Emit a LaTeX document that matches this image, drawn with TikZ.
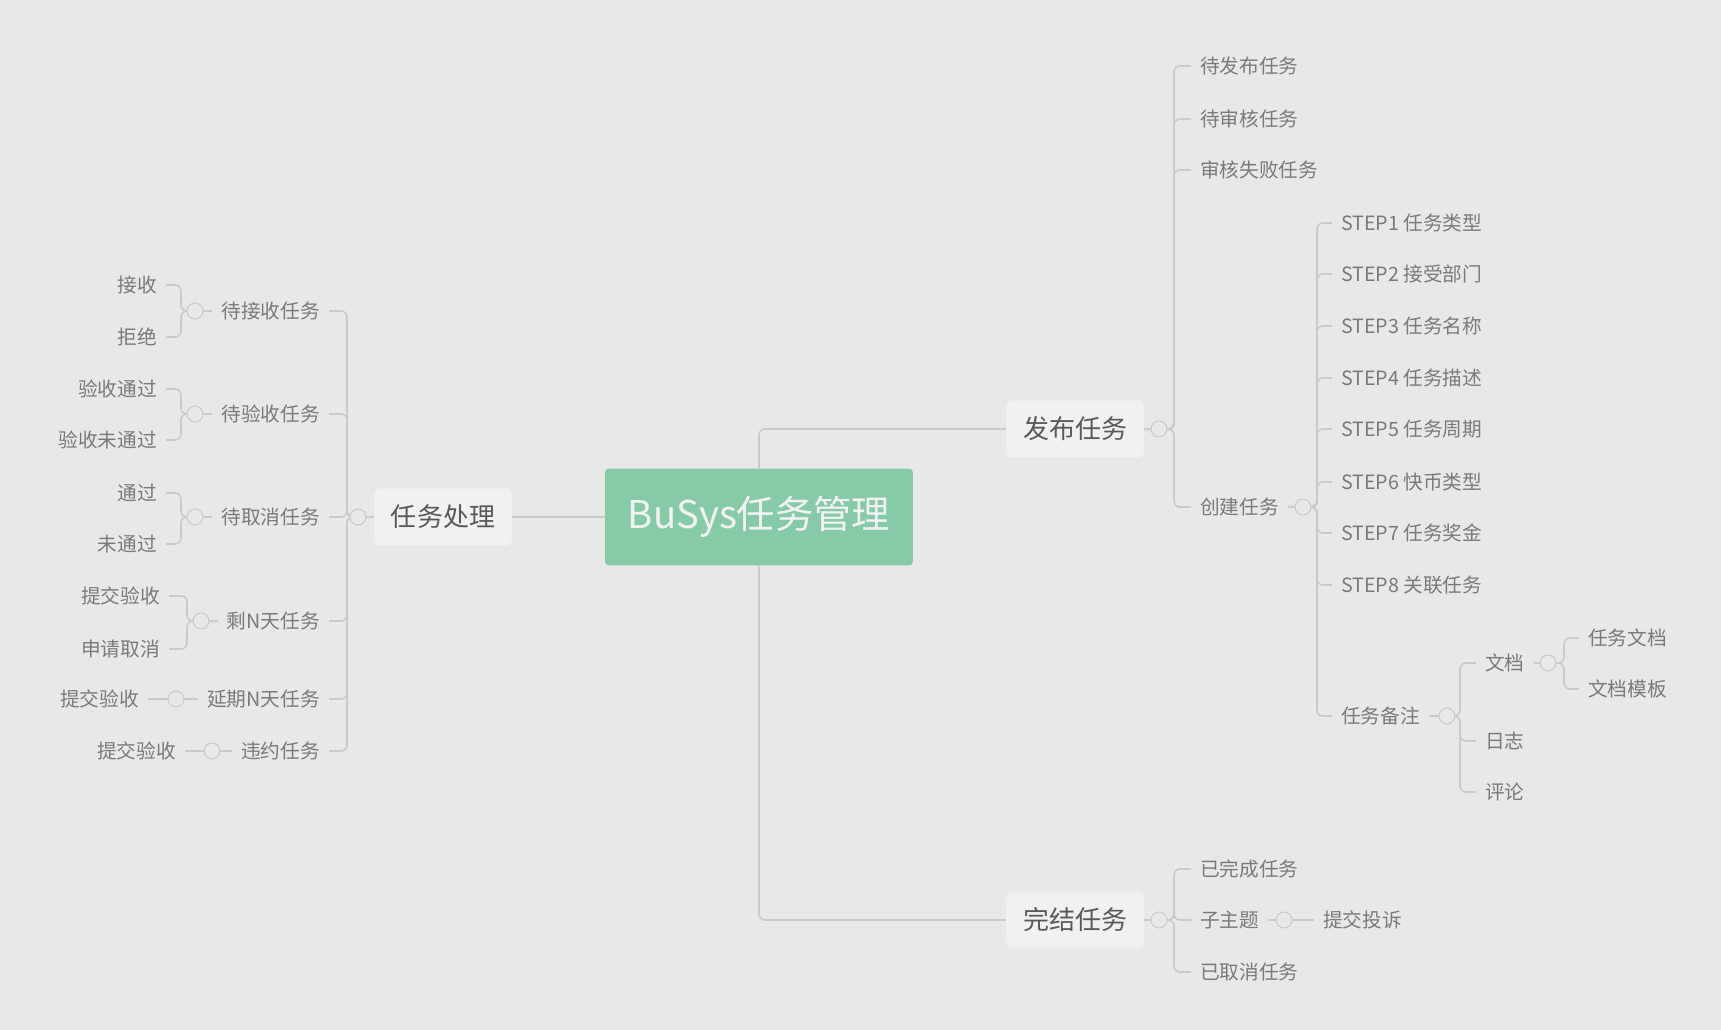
\documentclass[tikz,border=0pt]{standalone}
\usepackage{fontspec}
\setmainfont{Noto Sans CJK SC}
\usetikzlibrary{positioning, backgrounds}
\definecolor{bgcol}{HTML}{E8E8E8}
\definecolor{linecol}{HTML}{CACACA}
\definecolor{rootcol}{HTML}{86CAA8}
\definecolor{boxcol}{HTML}{F1F1F1}
\definecolor{txtcol}{HTML}{7A7A7A}
\tikzstyle{link} = [draw=linecol, line width=0.9pt, rounded corners=0.12cm]

\begin{document}
\begin{tikzpicture}[x=0.02cm, y=-0.02cm,
  root/.style={rectangle, rounded corners=0.08cm, fill=rootcol, text=white!95!black, minimum width=6.16cm, minimum height=1.94cm, font=\fontsize{21.8}{26}\selectfont},
  topic/.style={rectangle, rounded corners=0.1cm, fill=boxcol, draw=black!6, text=black!65, minimum width=2.74cm, minimum height=1.13cm, font=\fontsize{14.8}{18}\selectfont},
  leafL/.style={anchor=east, inner xsep=5pt, inner ysep=1pt, text=txtcol, font=\fontsize{11.2}{13}\selectfont},
  leafR/.style={leafL, anchor=west},
  btn/.style={circle, draw=linecol, fill=bgcol, line width=0.6pt, minimum size=0.32cm, inner sep=0pt}
]
\useasboundingbox (0,0) rectangle (1721,1030);

% Centre and main topics
\node[root] (root) at (759,517) {BuSys任务管理};
\node[topic] (proc) at (443,517) {任务处理};
\node[topic] (pub) at (1075,429) {发布任务};
\node[topic] (fin) at (1075,920) {完结任务};

% Left: task handling
\node[btn] (procBtn) at (358,517) {};
\node[leafL] (tRecv) at (329,311) {待接收任务};
\node[leafL] (tCheck) at (329,414) {待验收任务};
\node[leafL] (tCancel) at (329,517) {待取消任务};
\node[leafL] (tLeft) at (329,621) {剩N天任务};
\node[leafL] (tDelay) at (329,699) {延期N天任务};
\node[leafL] (tBreach) at (329,751) {违约任务};

\node[btn] (bRecv) at (195,311) {};
\node[btn] (bCheck) at (195,414) {};
\node[btn] (bCancel) at (195,517) {};
\node[btn] (bLeft) at (201,621) {};
\node[btn] (bDelay) at (176,699) {};
\node[btn] (bBreach) at (212,751) {};

\node[leafL] (gAccept) at (166,285) {接收};
\node[leafL] (gReject) at (166,337) {拒绝};
\node[leafL] (gPass) at (166,389) {验收通过};
\node[leafL] (gFail) at (166,440) {验收未通过};
\node[leafL] (gOk) at (166,493) {通过};
\node[leafL] (gNo) at (166,544) {未通过};
\node[leafL] (gLeftSub) at (169,596) {提交验收};
\node[leafL] (gLeftCancel) at (169,649) {申请取消};
\node[leafL] (gDelaySub) at (148,699) {提交验收};
\node[leafL] (gBreachSub) at (185,751) {提交验收};

% Right: publish
\node[btn] (pubBtn) at (1159,429) {};
\node[leafR] (pWait) at (1191,66) {待发布任务};
\node[leafR] (pAudit) at (1191,119) {待审核任务};
\node[leafR] (pReject) at (1191,170) {审核失败任务};
\node[leafR] (pCreate) at (1191,507) {创建任务};

\node[btn] (createBtn) at (1303,507) {};
\node[leafR] (s1) at (1332,223) {STEP1 任务类型};
\node[leafR] (s2) at (1332,274) {STEP2 接受部门};
\node[leafR] (s3) at (1332,326) {STEP3 任务名称};
\node[leafR] (s4) at (1332,378) {STEP4 任务描述};
\node[leafR] (s5) at (1332,429) {STEP5 任务周期};
\node[leafR] (s6) at (1332,482) {STEP6 快币类型};
\node[leafR] (s7) at (1332,533) {STEP7 任务奖金};
\node[leafR] (s8) at (1332,585) {STEP8 关联任务};
\node[leafR] (note) at (1332,716) {任务备注};

\node[btn] (noteBtn) at (1447,716) {};
\node[leafR] (doc) at (1476,663) {文档};
\node[leafR] (log) at (1476,741) {日志};
\node[leafR] (cmt) at (1476,792) {评论};

\node[btn] (docBtn) at (1548,663) {};
\node[leafR] (docTask) at (1579,638) {任务文档};
\node[leafR] (docTpl) at (1579,689) {文档模板};

% Right: finish
\node[btn] (finBtn) at (1159,920) {};
\node[leafR] (fDone) at (1191,869) {已完成任务};
\node[leafR] (fSub) at (1191,920) {子主题};
\node[leafR] (fCancel) at (1191,972) {已取消任务};
\node[btn] (subBtn) at (1284,920) {};
\node[leafR] (fComplain) at (1314,920) {提交投诉};

\begin{scope}[on background layer]
  \fill[bgcol] (0,0) rectangle (1721,1030);
  % trunk
  \draw[link] (root.west) -- (proc.east);
  \draw[link] (root.north) |- (pub.west);
  \draw[link] (root.south) |- (fin.west);
  % left branches
  \draw[link] (proc.west) -- (procBtn.center);
  \foreach \c in {tRecv, tCheck, tCancel, tLeft, tDelay, tBreach}
    \draw[link] (procBtn.center) -- ++(-11,0) |- (\c.east);
  \draw[link] (tRecv.west) -- (bRecv.center);
  \draw[link] (tCheck.west) -- (bCheck.center);
  \draw[link] (tCancel.west) -- (bCancel.center);
  \draw[link] (tLeft.west) -- (bLeft.center);
  \foreach \c in {gAccept, gReject}
    \draw[link] (bRecv.center) -- ++(-14,0) |- (\c.east);
  \foreach \c in {gPass, gFail}
    \draw[link] (bCheck.center) -- ++(-14,0) |- (\c.east);
  \foreach \c in {gOk, gNo}
    \draw[link] (bCancel.center) -- ++(-14,0) |- (\c.east);
  \foreach \c in {gLeftSub, gLeftCancel}
    \draw[link] (bLeft.center) -- ++(-14,0) |- (\c.east);
  \draw[link] (tDelay.west) -- (bDelay.center) -- (gDelaySub.east);
  \draw[link] (tBreach.west) -- (bBreach.center) -- (gBreachSub.east);
  % right branches
  \draw[link] (pub.east) -- (pubBtn.center);
  \foreach \c in {pWait, pAudit, pReject, pCreate}
    \draw[link] (pubBtn.center) -- ++(15,0) |- (\c.west);
  \draw[link] (pCreate.east) -- (createBtn.center);
  \foreach \c in {s1, s2, s3, s4, s5, s6, s7, s8, note}
    \draw[link] (createBtn.center) -- ++(14,0) |- (\c.west);
  \draw[link] (note.east) -- (noteBtn.center);
  \foreach \c in {doc, log, cmt}
    \draw[link] (noteBtn.center) -- ++(13,0) |- (\c.west);
  \draw[link] (doc.east) -- (docBtn.center);
  \foreach \c in {docTask, docTpl}
    \draw[link] (docBtn.center) -- ++(16,0) |- (\c.west);
  \draw[link] (fin.east) -- (finBtn.center);
  \foreach \c in {fDone, fSub, fCancel}
    \draw[link] (finBtn.center) -- ++(15,0) |- (\c.west);
  \draw[link] (fSub.east) -- (subBtn.center) -- (fComplain.west);
\end{scope}
\end{tikzpicture}
\end{document}
